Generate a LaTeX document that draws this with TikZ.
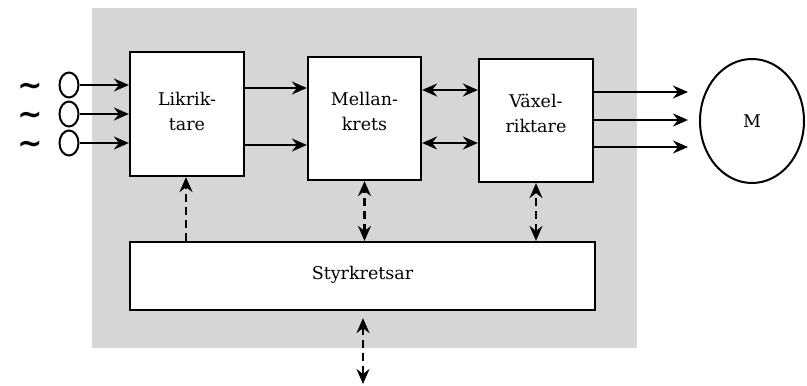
\documentclass[tikz,border=0pt]{standalone}
\usepackage{fontspec}
\setmainfont{DejaVu Serif}
\newfontfamily\tildefont{DejaVu Sans}
\usetikzlibrary{arrows.meta,shapes.geometric}
\begin{document}
\begin{tikzpicture}[x=1pt,y=-1pt,
  blk/.style={draw,line width=2.2pt,fill=white,inner sep=0pt},
  lbl/.style={font=\fontsize{17.5}{25}\selectfont,align=center,inner sep=0pt},
  src/.style={draw,line width=2pt,ellipse,minimum width=19pt,minimum height=25pt,inner sep=0pt},
  arr/.style={line width=2.2pt,-{Stealth[length=15pt,width=13pt,inset=5pt]}},
  darr/.style={line width=2.2pt,{Stealth[length=15pt,width=13pt,inset=5pt]}-{Stealth[length=15pt,width=13pt,inset=5pt]}},
  dsh/.style={dash pattern=on 8pt off 5pt},
  tld/.style={font=\tildefont\bfseries\fontsize{30}{30}\selectfont,inner sep=0pt,anchor=base,text height=0.45em,text depth=0pt}]
\useasboundingbox (0,0) rectangle (807,386);
\fill[black!16] (92,8) rectangle (637,348);
% boxes
\node[blk,minimum width=114pt,minimum height=124pt] (lik) at (187,114) {};
\node[blk,minimum width=113pt,minimum height=123pt] (mel) at (364.5,118.5) {};
\node[blk,minimum width=114pt,minimum height=123pt] (vax) at (536,120.5) {};
\node[blk,minimum width=465pt,minimum height=68pt] (sty) at (362.5,276) {};
\node[lbl] (tlik) at (187,111) {Likrik-\\tare};
\node[lbl] (tmel) at (364.5,111) {Mellan-\\krets};
\node[lbl] (tvax) at (536,113) {Växel-\\riktare};
\node[lbl] (tsty) at (362.5,275) {Styrkretsar};
% motor
\node[draw,line width=2pt,ellipse,minimum width=104pt,minimum height=124pt,inner sep=0pt,font=\fontsize{17.5}{18}\selectfont] (m) at (752,121) {M};
% sources
\node[src] (s1) at (69,85) {};
\node[src] (s2) at (69,114) {};
\node[src] (s3) at (69,143) {};
\node[tld] (t1) at (30,95) {\char"007E};
\node[tld] (t2) at (30,124) {\char"007E};
\node[tld] (t3) at (30,153) {\char"007E};
\draw[arr] (s1.east) -- (lik.west|-s1.east);
\draw[arr] (s2.east) -- (lik.west|-s2.east);
\draw[arr] (s3.east) -- (lik.west|-s3.east);
% Likriktare -> Mellankrets
\draw[arr] (lik.east|-0,88) -- (mel.west|-0,88);
\draw[arr] (lik.east|-0,145) -- (mel.west|-0,145);
% Mellankrets <-> Vaxelriktare
\draw[darr] (mel.east|-0,90) -- (vax.west|-0,90);
\draw[darr] (mel.east|-0,143) -- (vax.west|-0,143);
% outputs to motor
\coordinate (m1) at (688,92);
\coordinate (m2) at (688,120);
\coordinate (m3) at (688,147);
\draw[arr] (vax.east|-m1) -- (m1);
\draw[arr] (vax.east|-m2) -- (m2);
\draw[arr] (vax.east|-m3) -- (m3);
% control connections
\draw[arr,dsh] (sty.north-|186,0) -- (lik.south-|186,0);
\draw[darr,dsh] (sty.north-|mel.south) -- (mel.south);
\draw[darr,dsh] (sty.north-|vax.south) -- (vax.south);
\coordinate (ext) at (363,384);
\draw[darr,dsh,shorten <=7pt] (sty.south-|ext) -- (ext);
\end{tikzpicture}
\end{document}
